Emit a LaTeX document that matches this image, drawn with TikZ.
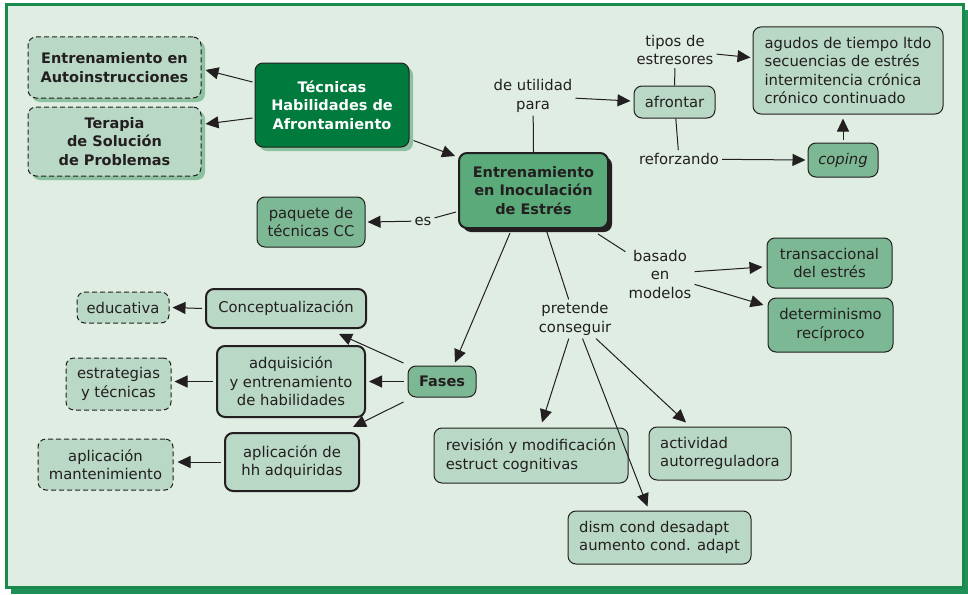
\documentclass[tikz,border=0pt]{standalone}
\usepackage{fontspec}
\setmainfont{DejaVu Sans}
\usetikzlibrary{shadows,calc,arrows.meta}
\definecolor{bg}{HTML}{DFEDE3}
\definecolor{lightg}{HTML}{B9D8C5}
\definecolor{midg}{HTML}{7DB894}
\definecolor{ceng}{HTML}{5BAA7A}
\definecolor{darkg}{HTML}{007A3D}
\definecolor{shdg}{HTML}{8DC2A0}
\definecolor{frameg}{HTML}{178A4C}
\definecolor{frameshd}{HTML}{1E9058}
\definecolor{ink}{HTML}{231F20}
\begin{document}
\begin{tikzpicture}[x=1pt,y=-1pt,
  font=\fontsize{14.8}{18.5}\selectfont,
  box/.style={draw=ink, line width=1pt, rounded corners=8pt, align=center, inner sep=0pt, text=ink},
  lightbox/.style={box, fill=lightg},
  midbox/.style={box, fill=midg},
  dashbox/.style={box, fill=lightg, dash pattern=on 5pt off 3pt},
  thickbox/.style={box, fill=lightg, line width=2pt},
  gshadow/.style={drop shadow={shadow xshift=4pt, shadow yshift=-4pt, fill=shdg, opacity=1}},
  kshadow/.style={drop shadow={shadow xshift=4pt, shadow yshift=-4pt, fill=ink, opacity=1}},
  lbl/.style={inner sep=3pt, align=center, text=ink},
  arr/.style={-{Triangle[length=13pt,width=12pt]}, line width=1pt, draw=ink},
  ln/.style={line width=1pt, draw=ink},
  bold/.style={font=\fontsize{14.5}{18.5}\selectfont\bfseries}]
\useasboundingbox (0,0) rectangle (968,594);
\fill[white] (0,0) rectangle (968,594);
\fill[frameshd] (11,10) rectangle (968,594);
\draw[frameg, line width=3pt, fill=bg] (6,5) rectangle (963,587);

% nodes
\node[dashbox, gshadow, bold, minimum width=173pt, minimum height=61pt] (auto) at (114.5,67.5) {Entrenamiento en\\Autoinstrucciones};
\node[dashbox, gshadow, bold, minimum width=173pt, minimum height=69pt] (terapia) at (114.5,141.5) {Terapia\\de Solución\\de Problemas};
\node[box, fill=darkg, gshadow, text=white, bold, minimum width=154pt, minimum height=84pt] (tec) at (332,105) {Técnicas\\Habilidades de\\Afrontamiento};
\node[box, fill=ceng, kshadow, line width=2pt, bold, minimum width=149pt, minimum height=75pt] (central) at (533.5,190.5) {Entrenamiento\\en Inoculación\\de Estrés};
\node[midbox, minimum width=108pt, minimum height=50pt] (paquete) at (311,222) {paquete de\\técnicas CC};
\node[lightbox, minimum width=81pt, minimum height=32pt] (afrontar) at (674.5,102) {afrontar};
\node[lightbox, align=left, minimum width=190pt, minimum height=87pt] (agudos) at (848,70.5) {agudos de tiempo ltdo\\secuencias de estrés\\intermitencia crónica\\crónico continuado};
\node[midbox, minimum width=70pt, minimum height=34pt] (coping) at (843,160) {\itshape coping};
\node[midbox, minimum width=125pt, minimum height=50pt] (trans) at (829.5,263) {transaccional\\del estrés};
\node[midbox, minimum width=125pt, minimum height=54pt] (determ) at (830.5,325) {determinismo\\recíproco};
\node[lightbox, align=left, minimum width=194pt, minimum height=55pt] (revision) at (531,455.5) {revisión y modificación\\estruct cognitivas};
\node[lightbox, align=left, minimum width=142pt, minimum height=53pt] (actividad) at (720,453.5) {actividad\\autorreguladora};
\node[lightbox, align=left, minimum width=183pt, minimum height=53pt] (dism) at (659.5,537.5) {dism cond desadapt\\aumento cond. adapt};
\node[midbox, bold, minimum width=68pt, minimum height=31pt] (fases) at (442,381.5) {Fases};
\node[thickbox, minimum width=160pt, minimum height=39pt] (concept) at (286,308.5) {Conceptualización};
\node[thickbox, minimum width=148pt, minimum height=71pt] (adq) at (291,381.5) {adquisición\\y entrenamiento\\de habilidades};
\node[thickbox, minimum width=134pt, minimum height=58pt] (aplic) at (292,462) {aplicación de\\hh adquiridas};
\node[dashbox, minimum width=92pt, minimum height=31pt] (educ) at (123,307.5) {educativa};
\node[dashbox, minimum width=105pt, minimum height=52pt] (estr) at (118.5,384) {estrategias\\y técnicas};
\node[dashbox, minimum width=135pt, minimum height=51pt] (mant) at (105.5,464.5) {aplicación\\mantenimiento};

% labels
\node[lbl] (es) at (423,221) {es};
\node[lbl] (util) at (533,96) {de utilidad\\para};
\node[lbl] (tipos) at (675,50) {tipos de\\estresores};
\node[lbl] (reforz) at (679,159) {reforzando};
\node[lbl] (basado) at (660,274) {basado\\en\\modelos};
\node[lbl] (pretende) at (575,319) {pretende\\conseguir};

% connectors
\draw[arr] ($(tec.west)+(-2,-23)$) -- ($(auto.east)+(4,2.5)$);
\draw[arr] ($(tec.west)+(-2,13)$) -- ($(terapia.east)+(4,-17.5)$);
\draw[arr] ($(tec.south east)+(4,-7)$) -- ($(central.north west)+(-3,4)$);
\draw[ln] ($(central.west)+(-2,21.5)$) -- (es);
\draw[arr] (es) -- ($(paquete.east)+(2,0)$);
\draw[ln] (central.north) -- (util);
\draw[arr] (util) -- ($(afrontar.west)+(-3,-1)$);
\draw[ln] (afrontar) -- (tipos);
\draw[arr] (tipos) -- ($(agudos.west)+(-2,-13)$);
\draw[ln] (afrontar) -- (reforz);
\draw[arr] (reforz) -- ($(coping.west)+(-2,0)$);
\draw[arr] ($(coping.north)+(0,-3)$) -- ($(coping.north |- agudos.south)+(0,4)$);
\draw[ln] ($(central.south east)+(-11,5)$) -- (basado);
\draw[arr] (basado) -- ($(trans.west)+(-4,4)$);
\draw[arr] (basado) -- ($(determ.west)+(-4,-20)$);
\draw[ln] (central) -- (pretende);
\draw[arr] (pretende) -- ($(revision.north)+(11,-5)$);
\draw[arr] (pretende) -- ($(dism.north)+(-12,-4)$);
\draw[arr] (pretende) -- ($(actividad.north)+(-34,-4)$);
\draw[arr] ($(central.south)+(-23.5,4)$) -- ($(fases.north)+(13,-3)$);
\draw[arr] ($(fases.west)+(-4,-18.5)$) -- ($(concept.south east)+(-28,5)$);
\draw[arr] ($(fases.west)+(-4,0)$) -- ($(adq.east)+(3,0)$);
\draw[arr] ($(fases.west)+(-4,20.5)$) -- ($(aplic.north east)+(-7,-5)$);
\draw[arr] ($(concept.west)+(-3,0)$) -- ($(educ.east)+(3,0)$);
\draw[arr] ($(adq.west)+(-3,0)$) -- ($(adq.west -| estr.east)+(3,0)$);
\draw[arr] ($(aplic.west)+(-3,0)$) -- ($(aplic.west -| mant.east)+(4,0)$);
\end{tikzpicture}
\end{document}
